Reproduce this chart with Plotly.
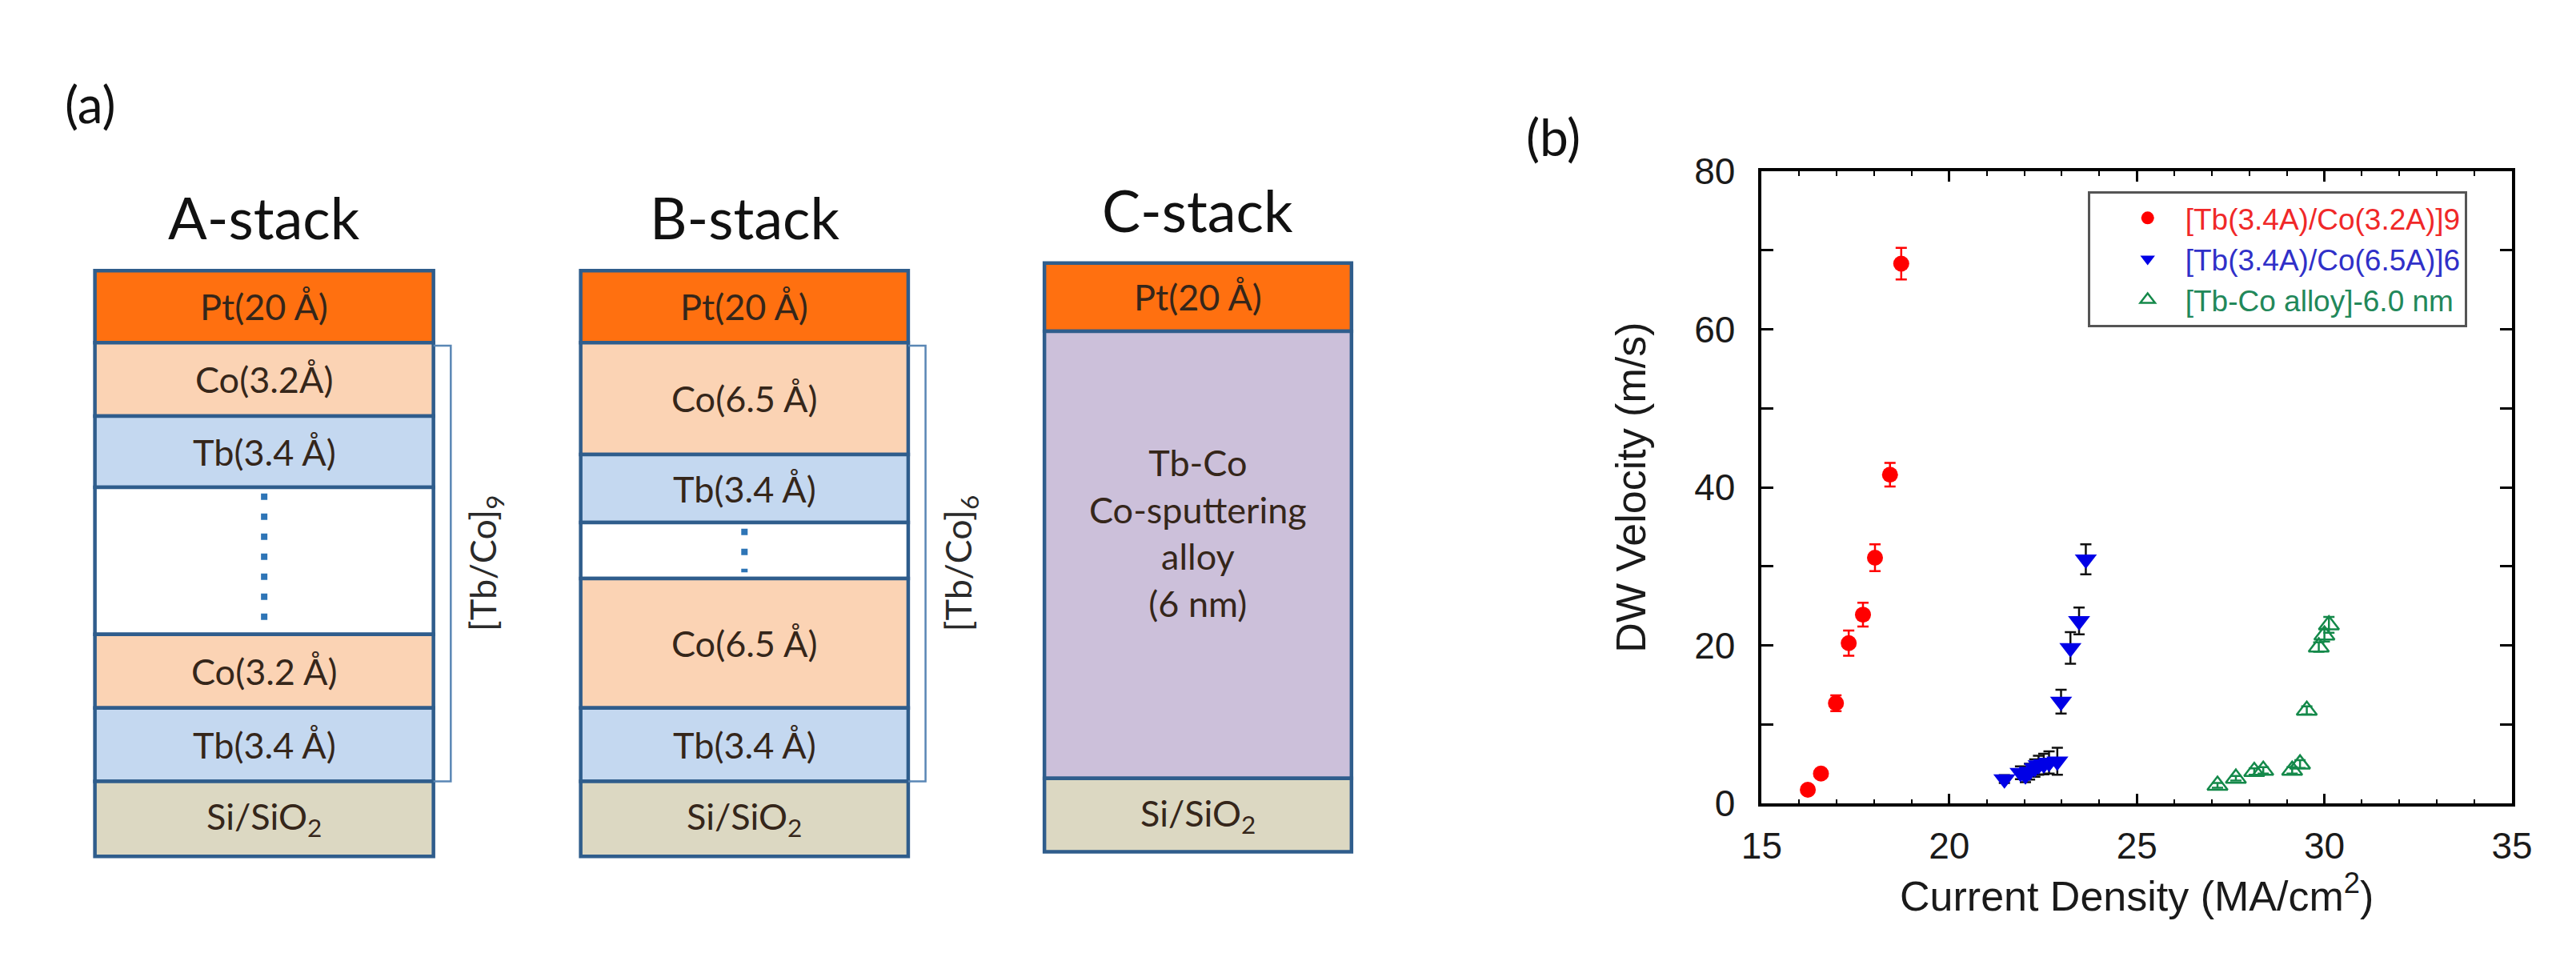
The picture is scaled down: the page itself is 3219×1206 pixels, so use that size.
import numpy as np
import plotly.graph_objects as go

W, H = 3219, 1206

# ---------------- Panel (b) data ----------------
red_name = "[Tb(3.4A)/Co(3.2A)]9"
red_x = [16.23, 16.58, 16.98, 17.32, 17.70, 18.02, 18.42, 18.72]
red_y = [1.75, 3.8, 12.7, 20.3, 23.9, 31.1, 41.6, 68.3]
red_err = [0.4, 0.5, 1.0, 1.6, 1.5, 1.7, 1.5, 2.0]

blue_name = "[Tb(3.4A)/Co(6.5A)]6"
blue_x = [21.47, 21.90, 22.03, 22.14, 22.28, 22.38, 22.52, 22.66, 22.88, 22.98, 23.23, 23.46, 23.64]
blue_y = [3.1, 3.9, 3.6, 4.05, 4.5, 4.85, 5.0, 5.2, 5.35, 12.9, 19.7, 23.1, 30.9]
blue_err = [0.5, 0.8, 0.9, 1.0, 1.1, 1.2, 1.3, 1.4, 1.7, 1.5, 2.0, 1.7, 1.9]

green_name = "[Tb-Co alloy]-6.0 nm"
green_x = [27.15, 27.64, 28.13, 28.37, 29.14, 29.35, 29.53, 29.85, 30.00, 30.12]
green_y = [2.3, 3.2, 4.05, 4.2, 4.2, 5.0, 11.8, 19.8, 21.3, 22.6]
green_err = [0.3, 0.3, 0.4, 0.4, 0.4, 0.5, 0.5, 0.6, 0.8, 1.0]

x_ticks = [15, 20, 25, 30, 35]
y_ticks = [0, 20, 40, 60, 80]

# ---------------- Panel (a) data ----------------
stack_titles = ["A-stack", "B-stack", "C-stack"]
stack_layers = [
    ["Pt(20 Å)", "Co(3.2Å)", "Tb(3.4 Å)", "", "Co(3.2 Å)", "Tb(3.4 Å)", "Si/SiO<sub>2</sub>"],
    ["Pt(20 Å)", "Co(6.5 Å)", "Tb(3.4 Å)", "", "Co(6.5 Å)", "Tb(3.4 Å)", "Si/SiO<sub>2</sub>"],
    ["Pt(20 Å)", "Tb-Co<br>Co-sputtering<br>alloy<br>(6 nm)", "Si/SiO<sub>2</sub>"],
]
stack_kinds = [
    ["Pt", "Co", "Tb", "gap", "Co", "Tb", "Si"],
    ["Pt", "Co", "Tb", "gap", "Co", "Tb", "Si"],
    ["Pt", "alloy", "Si"],
]
# schematic layer thicknesses (drawing units)
stack_thick = [
    [94, 96, 93, 192, 96, 96, 98],
    [94, 146, 89, 73, 169, 96, 98],
    [89, 584, 96],
]
repeat_labels = ["[Tb/Co]<sub>9</sub>", "[Tb/Co]<sub>6</sub>", None]

# ---------------- styles / layout geometry ----------------
COLORS = {"Pt": "#FF7010", "Co": "#FBD3B4", "Tb": "#C4D8F0", "gap": "#FFFFFF",
          "Si": "#DCD8C2", "alloy": "#CCC0DA"}
OUTLINE = "#2F5D8C"
LAYER_TXT = "#35261A"
stack_x0 = [86, 703, 1292]
stack_x1 = [516, 1119, 1682]
stack_top = [318, 318, 308]
PANEL_A_W = 1800

fig = go.Figure()
annotations = []
shapes = []

for i in range(3):
    thick = np.array(stack_thick[i], dtype=float)
    base = stack_top[i] + np.concatenate([[0], np.cumsum(thick)[:-1]])
    cx = (stack_x0[i] + stack_x1[i]) / 2
    w = stack_x1[i] - stack_x0[i]
    fig.add_trace(go.Bar(
        x=[cx] * len(thick), y=thick, base=base, width=w,
        marker=dict(color=[COLORS[k] for k in stack_kinds[i]],
                    line=dict(color=OUTLINE, width=4.5)),
        xaxis="x2", yaxis="y2", showlegend=False, hoverinfo="skip",
    ))
    # title
    annotations.append(dict(x=cx, y=stack_top[i] - 70, xref="x2", yref="y2",
                            text=stack_titles[i], showarrow=False,
                            font=dict(family="Lato", size=72, color="#111111")))
    for j, txt in enumerate(stack_layers[i]):
        if not txt:
            continue
        yshift = 27 if stack_kinds[i][j] == "alloy" else 0
        annotations.append(dict(x=cx, y=base[j] + thick[j] / 2, xref="x2", yref="y2",
                                text=txt, showarrow=False, yshift=yshift,
                                font=dict(family="Lato", size=45, color=LAYER_TXT)))
    # dotted line in the gap
    if "gap" in stack_kinds[i]:
        g = stack_kinds[i].index("gap")
        shapes.append(dict(type="line", xref="x2", yref="y2",
                           x0=cx, x1=cx, y0=base[g] + 8, y1=base[g] + thick[g] - 8,
                           line=dict(color="#2E75B6", width=8, dash="8px,17px")))
    # bracket for repeated bilayers
    if repeat_labels[i]:
        y0 = base[1] + 4
        y1 = base[5] + thick[5]
        bx = stack_x1[i] + 22
        shapes.append(dict(type="path", xref="x2", yref="y2",
                           path=f"M {stack_x1[i]} {y0} L {bx} {y0} L {bx} {y1} L {stack_x1[i]} {y1}",
                           line=dict(color="#5A87B5", width=2.5)))
        annotations.append(dict(x=bx + 44, y=(y0 + y1) / 2, xref="x2", yref="y2",
                                text=repeat_labels[i], showarrow=False, textangle=-90,
                                font=dict(family="Lato", size=45, color="#2A2A2A")))

# panel letters
annotations.append(dict(x=80, y=100, xref="x2", yref="y2", text="(a)", showarrow=False,
                        font=dict(family="Lato", size=64, color="#111111")))
annotations.append(dict(x=1938 / W, y=1 - 100 / H, xref="paper", yref="paper", text="(b)",
                        showarrow=False, font=dict(family="Lato", size=64, color="#111111")))

# ---------------- Panel (b) traces ----------------
def span(txt, col):
    return f'<span style="color:{col}">{txt}</span>'

fig.add_trace(go.Scatter(
    x=red_x, y=red_y, mode="markers", name=span(red_name, "#F02828"),
    marker=dict(symbol="circle", size=20, color="#FF0000"),
    error_y=dict(type="data", array=red_err, color="#FF0000", thickness=2.5, width=7),
))
fig.add_trace(go.Scatter(
    x=blue_x, y=blue_y, mode="markers", name=span(blue_name, "#3030C8"),
    marker=dict(symbol="triangle-down", size=24, color="#0000E6"),
    error_y=dict(type="data", array=blue_err, color="#111111", thickness=2.5, width=7),
))
fig.add_trace(go.Scatter(
    x=green_x, y=green_y, mode="markers", name=span(green_name, "#22885A"),
    marker=dict(symbol="triangle-up-open", size=22, color="#14894A", line=dict(width=2.5)),
    error_y=dict(type="data", array=green_err, color="#14894A", thickness=2.5, width=7),
))

axis_font = dict(family="Liberation Sans", size=46, color="#1A1A1A")
title_font = dict(family="Liberation Sans", size=52, color="#1A1A1A")

fig.update_layout(
    width=W, height=H, autosize=False,
    margin=dict(l=0, r=0, t=0, b=0),
    paper_bgcolor="white", plot_bgcolor="rgba(0,0,0,0)",
    barmode="overlay",
    showlegend=True,
    legend=dict(x=2617 / W, y=1 - 214 / H, xanchor="left", yanchor="top",
                bgcolor="white", bordercolor="#555555", borderwidth=3,
                font=dict(family="Liberation Sans", size=37),
                itemwidth=84, indentation=25),
    xaxis=dict(domain=[2203 / W, 3156 / W], range=[15, 35], anchor="y",
               tickvals=x_ticks, ticks="inside", ticklen=13, tickwidth=2.5, tickcolor="black",
               showline=True, linecolor="black", linewidth=3.5, mirror="ticks",
               showgrid=False, zeroline=False,
               minor=dict(dtick=1, ticks="inside", ticklen=6, tickwidth=2, tickcolor="black",
                          showgrid=False),
               tickfont=axis_font, ticklabelstandoff=10,
               title=dict(text="Current Density (MA/cm<sup>2</sup>)", font=title_font, standoff=18)),
    yaxis=dict(domain=[1 - 1014 / H, 1 - 188 / H], range=[0, 80], anchor="x",
               tickvals=y_ticks, ticks="inside", ticklen=15, tickwidth=2.5, tickcolor="black",
               showline=True, linecolor="black", linewidth=3.5, mirror="ticks",
               showgrid=False, zeroline=False,
               minor=dict(dtick=10, ticks="inside", ticklen=15, tickwidth=2.5, tickcolor="black",
                          showgrid=False),
               tickfont=axis_font, ticklabelstandoff=20,
               title=dict(text="DW Velocity (m/s)", font=title_font, standoff=45)),
    xaxis2=dict(domain=[0, PANEL_A_W / W], range=[0, PANEL_A_W], anchor="y2", visible=False,
                fixedrange=True),
    yaxis2=dict(domain=[0, 1], range=[H, 0], anchor="x2", visible=False, fixedrange=True),
    annotations=annotations,
    shapes=shapes,
)

fig.write_html("out.html")
